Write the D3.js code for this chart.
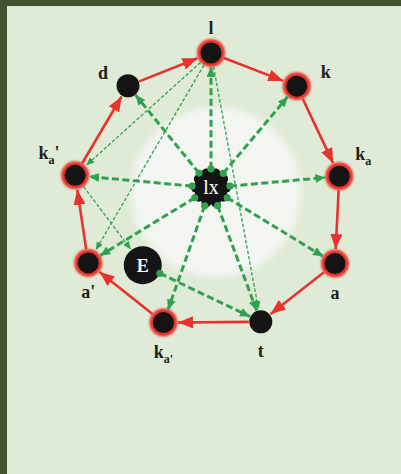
<!DOCTYPE html>
<html>
<head>
<meta charset="utf-8">
<script src="https://cdn.jsdelivr.net/npm/d3@7"></script>
<style>
  html, body { margin: 0; padding: 0; background: #44522f; }
  svg { display: block; }
</style>
</head>
<body>
<div id="chart"></div>
<script>
// ring nodes, clockwise from the top
var ringIds   = ["l", "k", "ka", "a", "t", "kab", "ab", "kap", "d"];
var ringAngle = [0, 39, 83, 120, 159, 200, 240, 277, 322];
var ringDist  = [1.0, 0.98, 0.93, 1.03, 1.0, 1.0, 1.02, 0.985, 0.97];
var ringRed   = [true, true, true, true, false, true, true, true, false];
var labelBase = ["l", "k", "k", "a", "t", "k", "a", "k", "d"];
var labelSub  = ["", "", "a", "", "", "a'", "", "a", ""];
var labelTail = ["", "", "", "", "", "", "'", "'", ""];
var labelSide = ["n", "ne", "e", "s", "s", "s", "s", "w", "nw"];

// inner nodes
var innerIds   = ["lx", "E"];
var innerAngle = [0, 223];
var innerDist  = [0.03, 0.72];

// edges
var redCycle   = ["d", "l", "k", "ka", "a", "t", "kab", "ab", "kap", "d"];
var hubTargets = ["d", "l", "k", "ka", "a", "t", "kab", "ab", "kap"];
var thickExtra = [["E", "t"]];
var thinEdges  = [["l", "k"], ["l", "kap"], ["l", "ab"], ["l", "t"], ["kap", "E"]];

var width = 401, height = 474;
var cx = 211, cy = 192;
var red = "#e8322b", green = "#33a050", ink = "#1c231a";

var svg = d3.select("#chart").append("svg")
    .attr("width", width)
    .attr("height", height);

var defs = svg.append("defs");
defs.append("filter").attr("id", "soft")
    .append("feGaussianBlur").attr("stdDeviation", 3);
defs.append("filter").attr("id", "glow")
    .append("feGaussianBlur").attr("stdDeviation", 0.8);

function arrowMarker(id, color, len, wid) {
    defs.append("marker")
        .attr("id", id)
        .attr("viewBox", "0 0 " + len + " " + wid)
        .attr("refX", len).attr("refY", wid / 2)
        .attr("markerWidth", len).attr("markerHeight", wid)
        .attr("markerUnits", "userSpaceOnUse")
        .attr("orient", "auto")
        .append("path")
        .attr("d", "M0,0L" + len + "," + (wid / 2) + "L0," + wid + "Z")
        .attr("fill", color);
}
arrowMarker("redArrow", red, 15, 12);
arrowMarker("greenArrow", green, 10, 9);
arrowMarker("thinArrow", green, 8, 7);
defs.append("marker")
    .attr("id", "dot")
    .attr("viewBox", "0 0 8 8")
    .attr("refX", 4).attr("refY", 4)
    .attr("markerWidth", 8).attr("markerHeight", 8)
    .attr("markerUnits", "userSpaceOnUse")
    .append("circle").attr("cx", 4).attr("cy", 4).attr("r", 3.6).attr("fill", green);

// background
svg.append("rect")
    .attr("x", 7).attr("y", 6)
    .attr("width", width - 7).attr("height", height - 6)
    .attr("fill", "#dfebd6");

var angle = d3.scaleLinear().domain([0, 360]).range([0, 2 * Math.PI]);
var radius = d3.scaleLinear().domain([0, 1]).range([0, 139]);

var nodes = {};
ringIds.forEach(function (id, i) {
    var a = angle(ringAngle[i]), r = radius(ringDist[i]);
    nodes[id] = { id: id, x: cx + r * Math.sin(a), y: cy - r * Math.cos(a),
        red: ringRed[i], size: ringRed[i] ? 14 : 12, i: i };
});
innerIds.forEach(function (id, i) {
    var a = angle(innerAngle[i]), r = radius(innerDist[i]);
    nodes[id] = { id: id, x: cx + r * Math.sin(a), y: cy - r * Math.cos(a), size: 19 };
});

// pale disc behind the hub
svg.append("circle")
    .attr("cx", 216).attr("cy", 192).attr("r", 85)
    .attr("fill", "#f3f5f1")
    .attr("filter", "url(#soft)");

// ring nodes
var ring = svg.append("g").selectAll("g")
    .data(ringIds.map(function (id) { return nodes[id]; }))
    .enter().append("g")
    .attr("transform", function (d) { return "translate(" + d.x + "," + d.y + ")"; });
ring.filter(function (d) { return d.red; }).append("circle")
    .attr("r", 14).attr("fill", red).attr("filter", "url(#glow)");
ring.append("circle")
    .attr("r", function (d) { return d.red ? 10.5 : 11.5; })
    .attr("fill", "#141414");

// hub node with bumps
var hub = nodes.lx;
var hubG = svg.append("g").attr("transform", "translate(" + hub.x + "," + hub.y + ")");
hubG.append("circle").attr("r", 16.5).attr("fill", "#141414");
hubG.selectAll("circle.bump")
    .data(d3.range(10))
    .enter().append("circle")
    .attr("class", "bump")
    .attr("cx", function (d) { return 15 * Math.cos(d * Math.PI / 5); })
    .attr("cy", function (d) { return 15 * Math.sin(d * Math.PI / 5); })
    .attr("r", 5).attr("fill", "#141414");
hubG.append("text")
    .attr("text-anchor", "middle").attr("dy", "0.33em")
    .style("font-family", "'Liberation Serif', serif")
    .style("font-size", "20px")
    .attr("fill", "#fff")
    .text("lx");

var eNode = nodes.E;
var eG = svg.append("g").attr("transform", "translate(" + eNode.x + "," + eNode.y + ")");
eG.append("circle").attr("r", 19).attr("fill", "#141414");
eG.append("text")
    .attr("text-anchor", "middle").attr("dy", "0.35em")
    .style("font-family", "'Liberation Serif', serif")
    .style("font-size", "18px")
    .style("font-weight", 700)
    .attr("fill", "#fff")
    .text("E");

// trims a segment to the node borders
function trimmed(s, t, gapS, gapT) {
    var dx = t.x - s.x, dy = t.y - s.y, L = Math.sqrt(dx * dx + dy * dy);
    var ux = dx / L, uy = dy / L;
    return { x1: s.x + ux * gapS, y1: s.y + uy * gapS, x2: t.x - ux * gapT, y2: t.y - uy * gapT };
}

function drawEdges(list, cls, opts) {
    svg.append("g").selectAll("line")
        .data(list)
        .enter().append("line")
        .each(function (d) {
            var s = nodes[d[0]], t = nodes[d[1]];
            var p = trimmed(s, t, opts.gapS(s), opts.gapT(t));
            d3.select(this).attr("x1", p.x1).attr("y1", p.y1).attr("x2", p.x2).attr("y2", p.y2);
        })
        .attr("class", cls)
        .attr("stroke", opts.color)
        .attr("stroke-width", opts.width)
        .attr("stroke-dasharray", opts.dash)
        .attr("marker-start", opts.start)
        .attr("marker-end", opts.end);
}

// thin dashed links
drawEdges(thinEdges, "thin", {
    color: green, width: 1.3, dash: "3.5,2",
    gapS: function (n) { return n.size; },
    gapT: function (n) { return n.size + 1; },
    start: null, end: "url(#thinArrow)"
});

// thick dashed links from the hub
drawEdges(hubTargets.map(function (t) { return ["lx", t]; }), "hub", {
    color: green, width: 3, dash: "7,3.5",
    gapS: function () { return 19; },
    gapT: function (n) { return n.size; },
    start: "url(#dot)", end: "url(#greenArrow)"
});
drawEdges(thickExtra, "extra", {
    color: green, width: 3, dash: "7,3.5",
    gapS: function (n) { return n.size; },
    gapT: function (n) { return n.size; },
    start: "url(#dot)", end: "url(#greenArrow)"
});

// red cycle
drawEdges(d3.pairs(redCycle), "cycle", {
    color: red, width: 2.6, dash: null,
    gapS: function (n) { return n.size; },
    gapT: function (n) { return n.size + 0.5; },
    start: null, end: "url(#redArrow)"
});

// labels
var sideOffset = {
    n: [0, -19], s: [0, 35], ne: [29, -8], e: [24, -16], w: [-26, -16], nw: [-25, -7]
};
var labels = svg.append("g").selectAll("text")
    .data(ringIds.map(function (id) { return nodes[id]; }))
    .enter().append("text")
    .attr("x", function (d) { return d.x + sideOffset[labelSide[d.i]][0]; })
    .attr("y", function (d) { return d.y + sideOffset[labelSide[d.i]][1]; })
    .attr("text-anchor", "middle")
    .attr("fill", ink)
    .style("font-family", "'Liberation Serif', serif")
    .style("font-size", "18px")
    .style("font-weight", 700);
labels.append("tspan").text(function (d) { return labelBase[d.i]; });
labels.filter(function (d) { return labelSub[d.i] != ""; })
    .append("tspan")
    .attr("dy", 5)
    .style("font-size", "12px")
    .text(function (d) { return labelSub[d.i]; });
labels.filter(function (d) { return labelTail[d.i] != ""; })
    .append("tspan")
    .attr("dy", function (d) { return labelSub[d.i] != "" ? -5 : 0; })
    .text(function (d) { return labelTail[d.i]; });
</script>
</body>
</html>
